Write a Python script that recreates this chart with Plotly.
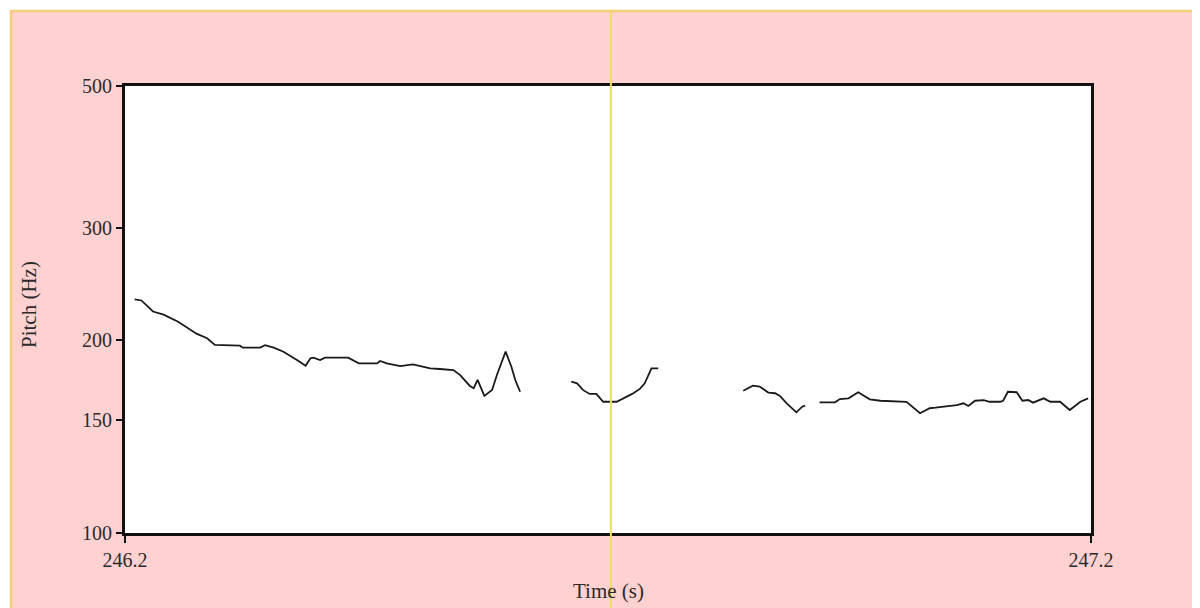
import plotly.graph_objects as go

# ---- data ----
seg1_time = [246.210, 246.217, 246.229, 246.240, 246.255, 246.274, 246.285, 246.293,
             246.319, 246.322, 246.340, 246.345, 246.354, 246.364, 246.378, 246.387,
             246.392, 246.395, 246.402, 246.407, 246.431, 246.442, 246.461, 246.464,
             246.471, 246.485, 246.498, 246.505, 246.516, 246.526, 246.540, 246.547,
             246.557, 246.561, 246.565, 246.572, 246.580, 246.585, 246.594, 246.600,
             246.604, 246.609]
seg1_pitch = [232.0, 231.0, 222.0, 219.5, 214.0, 205.0, 201.6, 196.8,
              196.3, 194.9, 194.9, 196.6, 194.9, 192.1, 186.4, 182.6,
              187.6, 188.0, 186.4, 188.0, 188.0, 184.2, 184.2, 185.8,
              184.2, 182.4, 183.5, 182.4, 180.9, 180.5, 179.8, 176.6,
              169.8, 168.4, 173.5, 163.8, 167.4, 176.6, 192.1, 182.0,
              173.5, 166.3]

seg2_time = [246.662, 246.668, 246.674, 246.681, 246.688, 246.695, 246.709,
             246.716, 246.725, 246.733, 246.738, 246.745, 246.752]
seg2_pitch = [172.4, 171.4, 167.4, 165.0, 165.0, 160.4, 160.4,
              162.4, 165.0, 168.0, 171.4, 180.9, 180.9]

seg3_time = [246.840, 246.850, 246.857, 246.866, 246.873, 246.878, 246.885,
             246.895, 246.901, 246.904]
seg3_pitch = [166.9, 170.0, 169.4, 165.8, 165.4, 163.8, 159.5,
              154.4, 157.6, 158.2]

seg4_time = [246.919, 246.935, 246.940, 246.949, 246.959, 246.971, 246.982,
             247.009, 247.023, 247.033, 247.039, 247.061, 247.068, 247.073,
             247.080, 247.089, 247.095, 247.106, 247.109, 247.114, 247.123,
             247.129, 247.135, 247.140, 247.151, 247.158, 247.168, 247.178,
             247.189, 247.197]
seg4_pitch = [160.1, 160.1, 162.0, 162.4, 166.0, 161.8, 161.0,
              160.4, 153.9, 156.7, 157.0, 158.5, 159.5, 158.0,
              161.0, 161.4, 160.4, 160.4, 161.0, 166.3, 166.0,
              161.0, 161.4, 159.9, 162.4, 160.4, 160.4, 155.7,
              160.4, 162.4]

x_ticks = [246.2, 247.2]
x_tick_labels = ["246.2", "247.2"]
y_ticks = [100, 150, 200, 300, 500]
y_tick_labels = ["100", "150", "200", "300", "500"]
x_range = [246.2, 247.2]
y_range = [100, 500]
cursor_time = 246.703

# ---- build ----
import math

times, pitches = [], []
for t, p in [(seg1_time, seg1_pitch), (seg2_time, seg2_pitch),
             (seg3_time, seg3_pitch), (seg4_time, seg4_pitch)]:
    times += t + [None]
    pitches += p + [None]

OFF = 8                      # page body margin in the browser
W, H = 1200 - OFF, 608 - OFF
L, T = 125 - OFF, 86 - OFF
pw, ph = 966, 447
R, B = W - L - pw, H - T - ph

def px_x(page_x):
    return (page_x - OFF - L) / pw

def px_y(page_y):
    return (T + ph - (page_y - OFF)) / ph

font = "Liberation Serif, Times New Roman, serif"
txt = "#2b2b2b"
pink = "#FFD1D1"
frame = "#F6CE7A"

fig = go.Figure()
fig.add_trace(go.Scatter(x=times, y=pitches, mode="lines",
                         line=dict(color="#1a1a1a", width=1.8),
                         connectgaps=False, hoverinfo="skip", showlegend=False))

shapes = [
    dict(type="rect", xref="paper", yref="paper", x0=px_x(0), x1=px_x(1200),
         y0=px_y(10), y1=px_y(0), fillcolor="white", line=dict(width=0), layer="below"),
    dict(type="rect", xref="paper", yref="paper", x0=px_x(0), x1=px_x(10),
         y0=px_y(608), y1=px_y(0), fillcolor="white", line=dict(width=0), layer="below"),
    dict(type="line", xref="paper", yref="paper", x0=px_x(10), x1=px_x(1200),
         y0=px_y(11), y1=px_y(11), line=dict(color=frame, width=2.5)),
    dict(type="line", xref="paper", yref="paper", x0=px_x(11), x1=px_x(11),
         y0=px_y(608), y1=px_y(10), line=dict(color=frame, width=2.5)),
    dict(type="line", xref="x", yref="paper", x0=cursor_time, x1=cursor_time,
         y0=px_y(608), y1=px_y(12), line=dict(color="#EEDD66", width=2)),
]

fig.update_layout(
    width=W, height=H,
    margin=dict(l=L, r=R, t=T, b=B),
    paper_bgcolor=pink, plot_bgcolor="white",
    shapes=shapes,
    font=dict(family=font, size=20, color=txt),
    xaxis=dict(range=x_range, tickvals=x_ticks, ticktext=x_tick_labels,
               showgrid=False, zeroline=False, showline=True, mirror=True,
               linecolor="#111111", linewidth=3, ticks="outside", ticklen=7,
               tickwidth=2, tickcolor="#111111",
               tickfont=dict(family=font, size=20, color=txt)),
    yaxis=dict(type="log", range=[math.log10(y_range[0]), math.log10(y_range[1])],
               tickvals=y_ticks, ticktext=y_tick_labels, showgrid=False,
               zeroline=False, showline=True, mirror=True, linecolor="#111111",
               linewidth=3, ticks="outside", ticklen=6, tickwidth=2,
               tickcolor="#111111", ticklabelstandoff=0,
               tickfont=dict(family=font, size=20, color=txt)),
    annotations=[
        dict(text="Time (s)", xref="paper", yref="paper", x=px_x(608), y=px_y(591),
             showarrow=False, font=dict(family=font, size=21, color=txt),
             xanchor="center", yanchor="middle"),
        dict(text="Pitch (Hz)", xref="paper", yref="paper", x=px_x(29), y=px_y(305),
             showarrow=False, textangle=-90,
             font=dict(family=font, size=21, color=txt),
             xanchor="center", yanchor="middle"),
    ],
)

fig.write_html("out.html")
